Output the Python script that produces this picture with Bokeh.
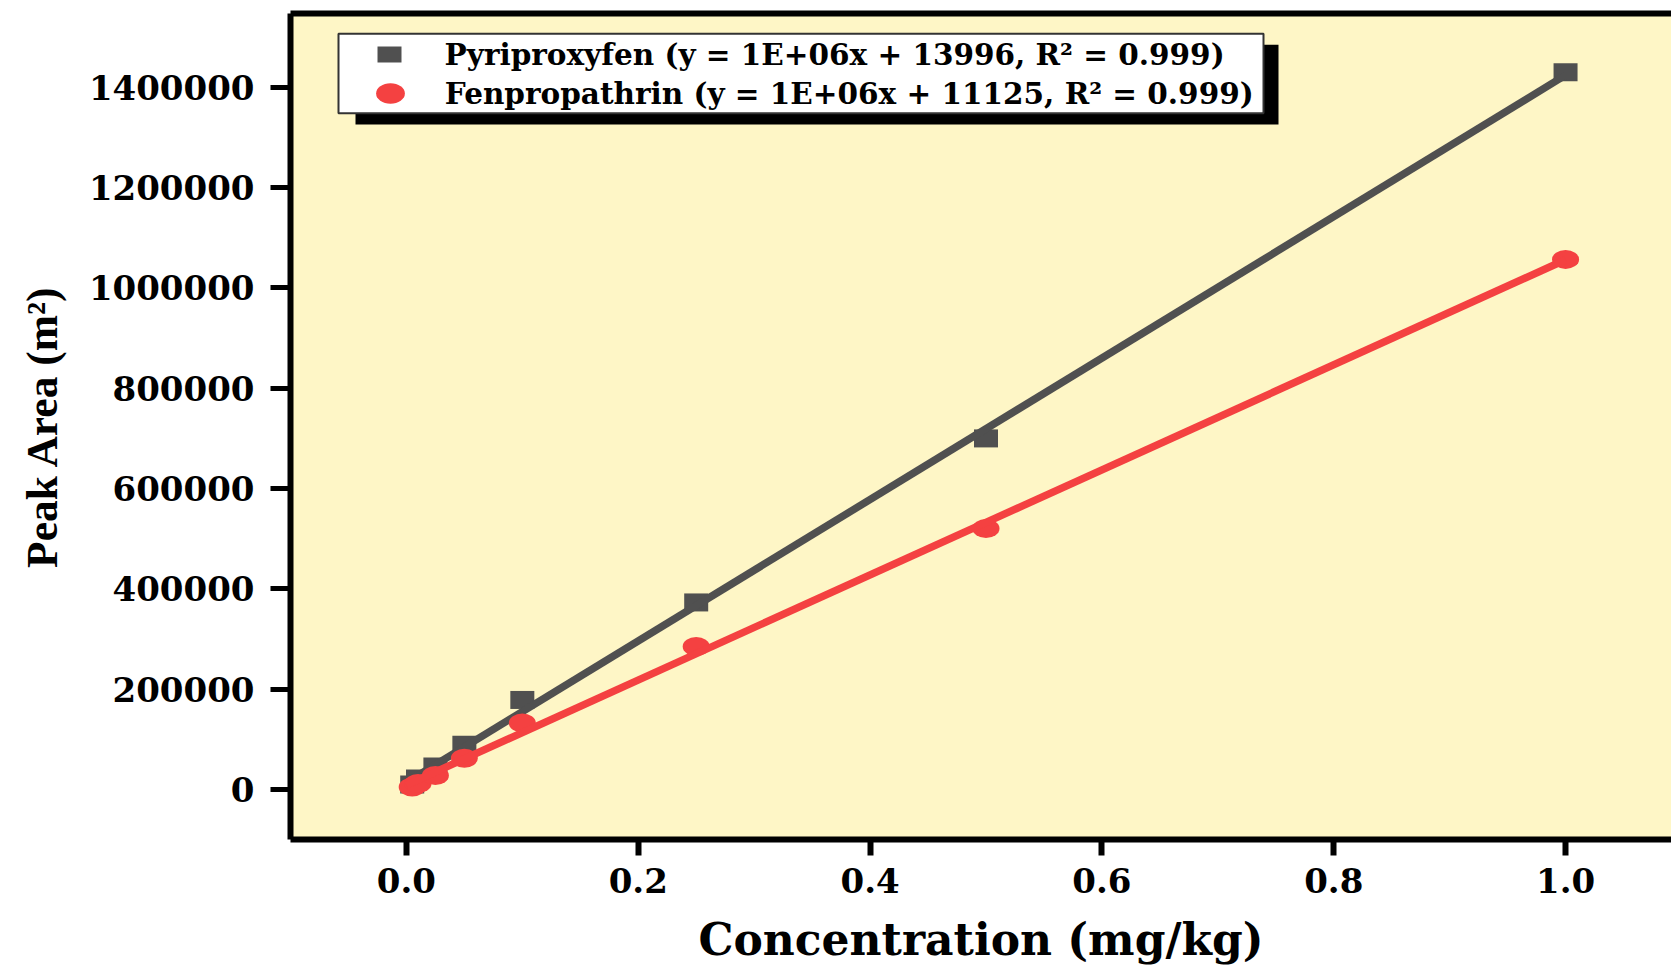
import numpy as np
from bokeh.plotting import figure
from bokeh.models import (Legend, LegendItem, BoxAnnotation, LinearAxis, Range1d,
                          FixedTicker, NumeralTickFormatter, ColumnDataSource)
from bokeh.embed import file_html
from bokeh.resources import INLINE

# ---------------- data ----------------
concentration = [0.005, 0.01, 0.025, 0.05, 0.1, 0.25, 0.5, 1.0]
pyriproxyfen_area = [10000, 22000, 46000, 89000, 178500, 372900, 699900, 1429700]
fenpropathrin_area = [5000, 12000, 28000, 62400, 132600, 285100, 520400, 1056800]
fit_x = [0.0, 1.0]
x_ticks = [0.0, 0.2, 0.4, 0.6, 0.8, 1.0]
y_ticks = [0, 200000, 400000, 600000, 800000, 1000000, 1200000, 1400000]
legend_labels = ["Pyriproxyfen (y = 1E+06x + 13996, R\u00b2 = 0.999)",
                 "Fenpropathrin (y = 1E+06x + 11125, R\u00b2 = 0.999)"]
x_title = "Concentration (mg/kg)"
y_title = "Peak Area (m\u00b2)"

GRAY = "#505050"
RED = "#F44141"
BG = "#FEF6C6"
SERIF_WIDE = "DejaVu Serif"
SERIF = "Liberation Serif"

# linear fits of the calibration points
sp, ip = np.polyfit(concentration, pyriproxyfen_area, 1)
sf, if_ = np.polyfit(concentration, fenpropathrin_area, 1)
fit_x_arr = np.array(fit_x)
fit_p = sp * fit_x_arr + ip
fit_f = sf * fit_x_arr + if_

p = figure(width=1671, height=969, output_backend="svg", toolbar_location=None,
           x_range=Range1d(-0.1, 1.0914), y_range=Range1d(-99700, 1547000),
           min_border_left=290, min_border_right=0, min_border_top=13, min_border_bottom=130,
           background_fill_color=BG, border_fill_color="white", outline_line_color=None)
p.grid.visible = False

src_p = ColumnDataSource(dict(x=concentration, y=pyriproxyfen_area))
src_f = ColumnDataSource(dict(x=concentration, y=fenpropathrin_area))

r_sq = p.rect("x", "y", width=24, height=18, width_units="screen", height_units="screen",
              source=src_p, fill_color=GRAY, line_color=None)
p.line(fit_x_arr, fit_p, line_color=GRAY, line_width=7.5)
r_ci = p.ellipse("x", "y", width=27, height=19, width_units="screen", height_units="screen",
                 source=src_f, fill_color=RED, line_color=None)
p.line(fit_x_arr, fit_f, line_color=RED, line_width=7.5)

# ---------------- axes ----------------
xa = p.xaxis[0]
xa.ticker = FixedTicker(ticks=x_ticks)
xa.formatter = NumeralTickFormatter(format="0.0")
xa.axis_line_width = 6
xa.axis_line_color = "black"
xa.major_tick_line_width = 6
xa.major_tick_out = 16
xa.major_tick_in = 0
xa.minor_tick_line_color = None
xa.major_label_text_font = SERIF_WIDE
xa.major_label_text_font_style = "bold"
xa.major_label_text_font_size = "34px"
xa.major_label_text_color = "black"
xa.major_label_standoff = 12
xa.axis_label = x_title
xa.axis_label_text_font = SERIF_WIDE
xa.axis_label_text_font_style = "bold"
xa.axis_label_text_font_size = "44px"
xa.axis_label_text_color = "black"
xa.axis_label_standoff = 18

ya = p.yaxis[0]
ya.ticker = FixedTicker(ticks=y_ticks)
ya.formatter = NumeralTickFormatter(format="0")
ya.axis_line_width = 6
ya.axis_line_color = "black"
ya.major_tick_line_width = 5
ya.major_tick_out = 20
ya.major_tick_in = 0
ya.minor_tick_line_color = None
ya.major_label_text_font = SERIF_WIDE
ya.major_label_text_font_style = "bold"
ya.major_label_text_font_size = "34px"
ya.major_label_text_color = "black"
ya.major_label_standoff = 16
ya.axis_label = y_title
ya.axis_label_text_font = SERIF
ya.axis_label_text_font_style = "bold"
ya.axis_label_text_font_size = "43.5px"
ya.axis_label_text_color = "black"
ya.axis_label_standoff = 20

top_axis = LinearAxis(ticker=FixedTicker(ticks=[]), axis_line_width=6, axis_line_color="black",
                      major_tick_out=0, major_tick_in=0, minor_tick_out=0, minor_tick_in=0,
                      major_label_text_font_size="0px")
p.add_layout(top_axis, "above")

# ---------------- legend (box with drop shadow) ----------------
shadow = BoxAnnotation(left=65, right=988, top=794.7, bottom=715,
                       left_units="screen", right_units="screen",
                       top_units="screen", bottom_units="screen",
                       fill_color="black", fill_alpha=1.0, line_color=None)
box = BoxAnnotation(left=48, right=973, top=805.7, bottom=726.3,
                    left_units="screen", right_units="screen",
                    top_units="screen", bottom_units="screen",
                    fill_color="white", fill_alpha=1.0, line_color="#333333",
                    line_alpha=1.0, line_width=2, line_dash="solid")
p.add_layout(shadow)
p.add_layout(box)

common = dict(padding=0, margin=0, spacing=0, label_text_font=SERIF_WIDE,
              label_text_font_style="bold", label_text_font_size="29.5px",
              label_text_color="black", background_fill_alpha=0, border_line_alpha=0)
leg1 = Legend(items=[LegendItem(label=legend_labels[0], renderers=[r_sq])],
              location=(83.6, 767.5), glyph_width=30, glyph_height=20,
              label_standoff=41, label_height=20, **common)
leg2 = Legend(items=[LegendItem(label=legend_labels[1], renderers=[r_ci])],
              location=(81.8, 728), glyph_width=36, glyph_height=36,
              label_standoff=37, label_height=20, **common)
p.add_layout(leg1)
p.add_layout(leg2)

open("out.html", "w").write(file_html(p, INLINE))
